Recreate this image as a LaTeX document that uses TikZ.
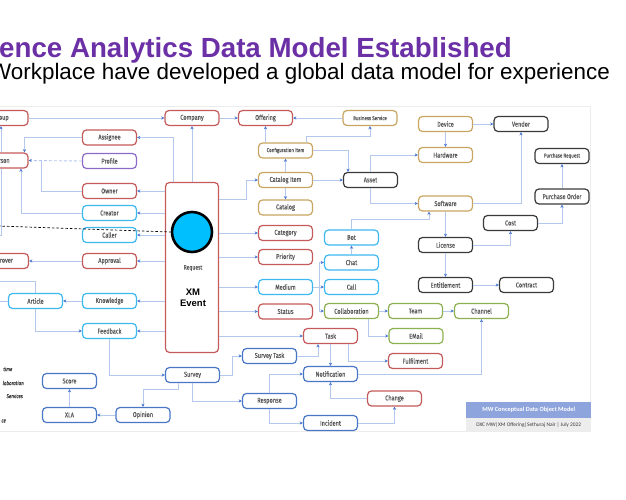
\documentclass[tikz,border=0pt]{standalone}
\usepackage{fontspec}
\setmainfont{Liberation Sans}
\newfontfamily\boxfont{Fira Sans}[FakeStretch=0.8, FakeBold=0.4]
\newfontfamily\footfont{Carlito}
\usepackage{xcolor}
\usepackage{tikz}
\usetikzlibrary{arrows.meta, positioning}

\definecolor{titlepurple}{HTML}{6B2FA6}
\definecolor{boxred}{HTML}{C55A5A}
\definecolor{boxcyan}{HTML}{3DB8F0}
\definecolor{boxpurple}{HTML}{8C6BC8}
\definecolor{boxgold}{HTML}{C8A560}
\definecolor{boxdark}{HTML}{3A3A3A}
\definecolor{boxgreen}{HTML}{8DB050}
\definecolor{boxblue}{HTML}{4A76C6}
\definecolor{lineblue}{HTML}{B4C8EE}
\definecolor{tipblue}{HTML}{4A78D0}
\definecolor{hubcyan}{HTML}{00BFFF}
\definecolor{footblue}{HTML}{8EA4DC}
\definecolor{footgrey}{HTML}{EDEDED}
\definecolor{txtgrey}{HTML}{595959}

\begin{document}
\begin{tikzpicture}[x=1pt, y=-1pt,
			entity/.style={rectangle, rounded corners=4pt, line width=1.2pt, fill=white, minimum width=54pt, minimum height=15pt, inner sep=0pt, text=txtgrey, font=\boxfont\fontsize{7}{8}\selectfont},
			redbox/.style={entity, draw=boxred},
			cyanbox/.style={entity, draw=boxcyan},
			purplebox/.style={entity, draw=boxpurple},
			goldbox/.style={entity, draw=boxgold},
			darkbox/.style={entity, draw=boxdark},
			greenbox/.style={entity, draw=boxgreen},
			bluebox/.style={entity, draw=boxblue},
			smalltext/.style={font=\boxfont\fontsize{5.6}{6.5}\selectfont},
			legend/.style={inner sep=0pt, text=boxdark, font=\boxfont\itshape\fontsize{5.6}{6.5}\selectfont},
			arrow/.style={draw=lineblue, line width=0.9pt, -{Stealth[length=3.2pt, width=3.2pt, color=tipblue]}},
			dashedarrow/.style={arrow, dash pattern=on 3pt off 2pt},
			plain/.style={draw=lineblue, line width=0.9pt},
			]
			\useasboundingbox (0,0) rectangle (626,500);
			\clip (0,0) rectangle (626,500);
			
			% ---- Heading ----
			\node[anchor=base west, inner sep=0pt, text=titlepurple, font=\bfseries\fontsize{27.7}{31}\selectfont] (title) at (-1,58) {ence Analytics Data Model Established};
			\node[anchor=base west, inner sep=0pt, font=\fontsize{22.4}{26}\selectfont] (subtitle) at (-10,80) {Workplace have developed a global data model for experience};
			
			% ---- Slide panel ----
			\draw[gray!15, line width=0.8pt] (-5,106) rectangle (590,431);
			
			% ---- Event hub ----
			\node[redbox, minimum width=53pt, minimum height=170pt] (xmevent) at (192,267.5) {};
			\node[circle, fill=hubcyan, draw=black, line width=2.6pt, minimum size=40pt] (hub) at (192,232) {};
			\node[text=txtgrey, font=\boxfont\fontsize{6.3}{7}\selectfont] (request) at (193,268) {Request};
			\node[align=center, font=\bfseries\fontsize{9.5}{11}\selectfont] (xmlabel) at (193,298) {XM\\Event};
			
			% ---- People (left) ----
			\node[redbox] (group) at (1,118) {\phantom{Gr}oup};
			\node[redbox] (person) at (1,160.5) {\phantom{Pe}rson};
			\node[redbox] (approver) at (1.5,261) {\phantom{App}rover};
			\node[redbox] (assignee) at (109.5,137.5) {Assignee};
			\node[purplebox] (profile) at (109.5,161) {Profile};
			\node[redbox] (owner) at (109.5,191) {Owner};
			\node[cyanbox] (creator) at (109.5,213) {Creator};
			\node[cyanbox] (caller) at (109.5,235) {Caller};
			\node[redbox] (approval) at (109.5,261) {Approval};
			\node[cyanbox] (knowledge) at (109.5,301) {Knowledge};
			\node[cyanbox] (article) at (35.5,301) {Article};
			\node[cyanbox] (feedback) at (109.5,331) {Feedback};
			
			% ---- Offering and assets (top) ----
			\node[redbox] (company) at (192,118) {Company};
			\node[redbox] (offering) at (265.5,118) {Offering};
			\node[goldbox, smalltext] (bizservice) at (370,118) {Business Service};
			\node[goldbox, smalltext] (configitem) at (285.5,150.5) {Configuration Item};
			\node[goldbox] (catalogitem) at (285.5,180) {Catalog Item};
			\node[goldbox] (catalog) at (285.5,207.5) {Catalog};
			\node[darkbox] (asset) at (370.5,180) {Asset};
			\node[goldbox] (device) at (445.5,124) {Device};
			\node[darkbox] (vendor) at (521,124) {Vendor};
			\node[goldbox] (hardware) at (445.5,155) {Hardware};
			\node[goldbox] (software) at (445.5,203.5) {Software};
			\node[darkbox, smalltext] (purchreq) at (562,156) {Purchase Request};
			\node[darkbox] (purchorder) at (562,196.5) {Purchase Order};
			\node[darkbox] (cost) at (510.5,223) {Cost};
			\node[darkbox] (license) at (445.5,245) {License};
			\node[darkbox] (entitlement) at (445.5,285) {Entitlement};
			\node[darkbox] (contract) at (526.5,285) {Contract};
			
			% ---- Event attributes and channels (middle) ----
			\node[redbox] (category) at (285.5,233) {Category};
			\node[redbox] (priority) at (285.5,257) {Priority};
			\node[cyanbox] (medium) at (285.5,287) {Medium};
			\node[redbox] (status) at (285.5,311.5) {Status};
			\node[cyanbox] (bot) at (351.5,237.5) {Bot};
			\node[cyanbox] (chat) at (351.5,262.5) {Chat};
			\node[cyanbox] (call) at (351.5,287) {Call};
			\node[greenbox] (collab) at (351.5,311) {Collaboration};
			\node[greenbox] (team) at (415.5,311) {Team};
			\node[greenbox] (channel) at (481.5,311) {Channel};
			\node[greenbox] (email) at (416,336) {EMail};
			\node[redbox] (task) at (330.5,336) {Task};
			\node[redbox] (fulfilment) at (415.5,361) {Fulfilment};
			
			% ---- Survey and response (bottom) ----
			\node[bluebox] (surveytask) at (269.5,356) {Survey Task};
			\node[bluebox] (survey) at (192.5,375) {Survey};
			\node[bluebox] (notification) at (330.5,374) {Notification};
			\node[redbox] (change) at (394.5,398.5) {Change};
			\node[bluebox] (response) at (269.5,401) {Response};
			\node[bluebox] (incident) at (330.5,423) {Incident};
			\node[bluebox] (score) at (69.5,381) {Score};
			\node[bluebox] (xla) at (69.5,415) {XLA};
			\node[bluebox] (opinion) at (143,415) {Opinion};
			
			% ---- Legend (cut off) ----
			\node[legend, anchor=east] (lg1) at (12.5,369) {time};
			\node[legend, anchor=east] (lg2) at (24,383) {laboration};
			\node[legend, anchor=east] (lg3) at (23,396) {Services};
			\node[legend, anchor=east] (lg4) at (6,421) {ce};
			
			% ---- Footer ----
			\node[anchor=north west, fill=footblue, minimum width=125pt, minimum height=16pt, inner sep=0pt, text=white, font=\footfont\bfseries\fontsize{6.3}{7}\selectfont] (footer) at (466,402) {MW Conceptual Data Object Model};
			\node[anchor=north west, fill=footgrey, minimum width=125pt, minimum height=13pt, inner sep=0pt, text=boxdark, font=\footfont\fontsize{5.4}{6}\selectfont] (credit) at (466,418) {DXC MW|XM Offering|Sethuraj Nair | July 2022};
			
			% ---- Links: people ----
			\coordinate (offperson) at (-8,235);
			\coordinate (offarticle) at (-8,281);
			\coordinate (offarticlew) at (-8,301);
			\coordinate (offdash) at (-2,226);
			\draw[arrow] (group.east) -- (company.west);
			\draw[arrow] (person.north) -- (group.south);
			\draw[plain] (person.south) |- (offperson);
			\draw[arrow] ([xshift=-19pt]xmevent.north) |- (assignee.east);
			\draw[arrow] (assignee.west) -| ([xshift=23.5pt]person.north);
			\draw[dashedarrow] (profile.west) -- (person.east);
			\draw[plain] (owner.west) -| ([xshift=13pt]person.east);
			\draw[arrow] (creator.west) -| ([xshift=20pt]person.south);
			\foreach \n in {owner,creator,caller,approval,knowledge,feedback}
				\draw[arrow] (xmevent.west |- \n.east) -- (\n.east);
			\draw[arrow] (approval.west) -- (approver.east);
			\draw[arrow] (knowledge.west) -- (article.east);
			\draw[plain] (offarticle) -| (article.north);
			\draw[plain] (offarticlew) -- (article.west);
			\draw[arrow] (article.south) |- (feedback.west);
			\draw[black, line width=0.7pt, dash pattern=on 2.5pt off 2pt] (offdash) -- (hub.west);
			
			% ---- Links: offering and assets ----
			\draw[arrow] (xmevent.north) -- (company.south);
			\draw[arrow] (company.east) -- (offering.west);
			\draw[arrow] (bizservice.west) -- (offering.east);
			\draw[arrow] (configitem.north -| offering.south) -- (offering.south);
			\draw[arrow] ([xshift=21pt]configitem.north) -- ++(0,-6) -| (bizservice.south);
			\draw[arrow] (configitem.east) -| ([xshift=-22.5pt]asset.north);
			\draw[arrow] (catalogitem.north) -- (configitem.south);
			\draw[arrow] (catalogitem.south) -- (catalog.north);
			\draw[arrow] (catalogitem.east) -- (asset.west);
			\draw[arrow] (xmevent.east |- catalog.north) -- ++(27,0) |- (catalogitem.west);
			\draw[arrow] (asset.north) |- (hardware.west);
			\draw[arrow] (asset.south) |- (software.west);
			\draw[arrow] (device.south) -- (hardware.north);
			\draw[arrow] (device.east) -- (vendor.west);
			\draw[arrow] (software.east) -| (vendor.south);
			\draw[arrow] (purchorder.north) -- (purchreq.south);
			\draw[arrow] (cost.east) -| (purchorder.south);
			\draw[arrow] (software.south) -- (license.north);
			\draw[arrow] (license.east) -| (cost.south);
			\draw[arrow] (license.south) -- (entitlement.north);
			\draw[arrow] (entitlement.east) -- (contract.west);
			
			% ---- Links: attributes and channels ----
			\foreach \n in {category,priority,medium,status,task}
				\draw[arrow] (xmevent.east |- \n.west) -- (\n.west);
			\draw[arrow] (bot.north) -- ++(0,-10) -| ([xshift=-16.5pt]software.south);
			\draw[arrow] (chat.north) -- (bot.south);
			\draw[arrow] (medium.east) -- (call.west);
			\draw[arrow] (medium.east) -- ++(6,0) |- (chat.west);
			\draw[arrow] (medium.east) -- ++(6,0) |- (collab.west);
			\draw[arrow] (collab.east) -- (team.west);
			\draw[arrow] (team.east) -- (channel.west);
			\draw[arrow] ([xshift=16.5pt]collab.south) |- (email.west);
			
			% ---- Links: survey and response ----
			\draw[arrow] (feedback.south) |- (survey.west);
			\draw[arrow] ([xshift=-14.5pt]survey.south) -- ++(0,6) -| (opinion.north);
			\draw[arrow] (opinion.west) -- (xla.east);
			\draw[arrow] (xla.north) -- (score.south);
			\draw[arrow] (survey.south) |- (response.west);
			\draw[arrow] (survey.east) -- ++(12,0) |- (surveytask.west);
			\draw[arrow] (surveytask.east) -| ([xshift=-12.5pt]task.south);
			\draw[arrow] (task.south) -- (notification.north);
			\draw[arrow] ([xshift=17.5pt]task.south) |- (fulfilment.west);
			\draw[arrow] (response.north) |- (notification.west);
			\draw[arrow] (response.south) |- (incident.west);
			\draw[arrow] (incident.east) -| (change.south);
			\draw[arrow] (change.west) -| (notification.south);
			\draw[arrow] (notification.east) -| (channel.south);
			
		\end{tikzpicture}
\end{document}
